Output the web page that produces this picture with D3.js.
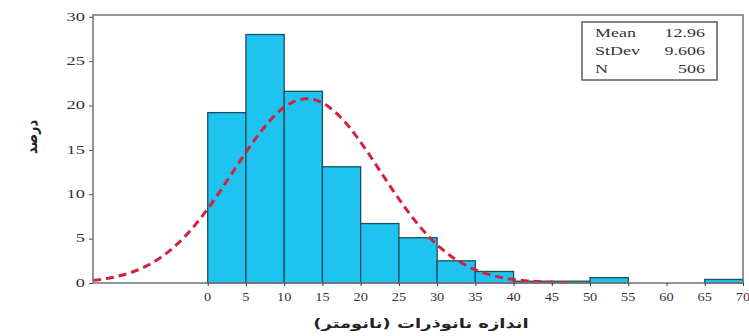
<!DOCTYPE html>
<html>
<head>
<meta charset="utf-8">
<script src="https://cdn.jsdelivr.net/npm/d3@7"></script>
<style>
  html, body { margin: 0; padding: 0; background: #fff; }
  svg { display: block; }
  .serif { font-family: "Liberation Serif", "DejaVu Serif", serif; }
  .fa { font-family: "DejaVu Sans", sans-serif; font-weight: bold; }
</style>
</head>
<body>
<svg id="chart" width="749" height="336"></svg>
<script>
// Histogram of nanoparticle size (percent per 5 nm bin) with fitted normal curve
const binStarts = [0, 5, 10, 15, 20, 25, 30, 35, 40, 45, 50, 55, 60, 65];
const binWidth = 5;
const percents = [19.2, 28.0, 21.6, 13.1, 6.7, 5.1, 2.5, 1.3, 0.2, 0.2, 0.6, 0, 0, 0.4];
const xTicks = [0, 5, 10, 15, 20, 25, 30, 35, 40, 45, 50, 55, 60, 65, 70];
const yTicks = [0, 5, 10, 15, 20, 25, 30];
const statNames = ["Mean", "StDev", "N"];
const statLabels = ["12.96", "9.606", "506"];
const mean = 12.96, sd = 9.606;

const svg = d3.select("#chart");
const m = { left: 93, top: 15, right: 743, bottom: 283 };

const x = d3.scaleLinear().domain([-15, 70]).range([m.left, m.right]);
const y = d3.scaleLinear().domain([0, 30.2]).range([m.bottom, m.top]);

// text helper with a horizontal stretch
function label(parent, tx, ty, str, opt) {
  const g = parent.append("g").attr("transform", `translate(${tx},${ty}) scale(${opt.sx || 1},1)`);
  return g.append("text")
    .attr("class", opt.cls || "serif")
    .attr("text-anchor", opt.anchor || "start")
    .style("font-size", (opt.size || 11) + "px")
    .attr("fill", opt.fill || "#333")
    .text(str);
}

// bars
svg.append("g").selectAll("rect")
  .data(binStarts.map((s, i) => ({ s, v: percents[i] })).filter(d => d.v > 0))
  .join("rect")
  .attr("x", d => x(d.s))
  .attr("y", d => y(d.v))
  .attr("width", d => x(d.s + binWidth) - x(d.s))
  .attr("height", d => y(0) - y(d.v))
  .attr("fill", "#1ec4ef")
  .attr("stroke", "#17505f")
  .attr("stroke-width", 1.3);

// normal curve scaled to percent per bin
const pdf = t => 100 * binWidth * Math.exp(-0.5 * ((t - mean) / sd) ** 2) / (sd * Math.sqrt(2 * Math.PI));
const curvePts = d3.range(-15, 47.01, 0.25).map(t => [t, pdf(t)]);
svg.append("path")
  .datum(curvePts)
  .attr("d", d3.line().x(d => x(d[0])).y(d => y(d[1])).curve(d3.curveBasis))
  .attr("fill", "none")
  .attr("stroke", "#d3213a")
  .attr("stroke-width", 3)
  .attr("stroke-dasharray", "8,5");

// frame
svg.append("rect")
  .attr("x", m.left).attr("y", m.top)
  .attr("width", m.right - m.left).attr("height", m.bottom - m.top)
  .attr("fill", "none").attr("stroke", "#7a7a7a").attr("stroke-width", 1.6);

// y axis ticks and labels
const yAxis = svg.append("g")
  .attr("transform", `translate(${m.left},0)`)
  .call(d3.axisLeft(y).tickValues(yTicks).tickSize(4).tickFormat(""));
yAxis.select(".domain").remove();
yAxis.selectAll("line").attr("stroke", "#555");
yTicks.forEach(v => label(svg, 85, y(v) + 3.8, v, { anchor: "end", size: 11.5, sx: 1.6 }));

// x axis ticks and labels
const xAxis = svg.append("g")
  .attr("transform", `translate(0,${m.bottom})`)
  .call(d3.axisBottom(x).tickValues(xTicks).tickSize(3).tickFormat(""));
xAxis.select(".domain").remove();
xAxis.selectAll("line").attr("stroke", "#333");
xTicks.forEach(v => label(svg, x(v), 300.5, v, { anchor: "middle", size: 11.5, sx: 1.25 }));

// axis titles
label(svg, 421, 328, "اندازه نانوذرات (نانومتر)",
  { cls: "fa", anchor: "middle", size: 13, sx: 1.38, fill: "#222" })
  .attr("direction", "rtl");

svg.append("text")
  .attr("class", "fa")
  .attr("transform", "translate(37,137) scale(1.2,1) rotate(-90)")
  .attr("text-anchor", "middle")
  .style("font-size", "13px").attr("fill", "#222")
  .attr("direction", "rtl")
  .text("درصد");

// statistics box
const box = svg.append("g");
box.append("rect")
  .attr("x", 582).attr("y", 22).attr("width", 135).attr("height", 58)
  .attr("fill", "#fff").attr("stroke", "#666").attr("stroke-width", 1.6);
statNames.forEach((n, i) => {
  label(box, 595, 37 + i * 18, n, { size: 12, sx: 1.5 });
  label(box, 705, 37 + i * 18, statLabels[i], { anchor: "end", size: 12, sx: 1.5 });
});
</script>
</body>
</html>
